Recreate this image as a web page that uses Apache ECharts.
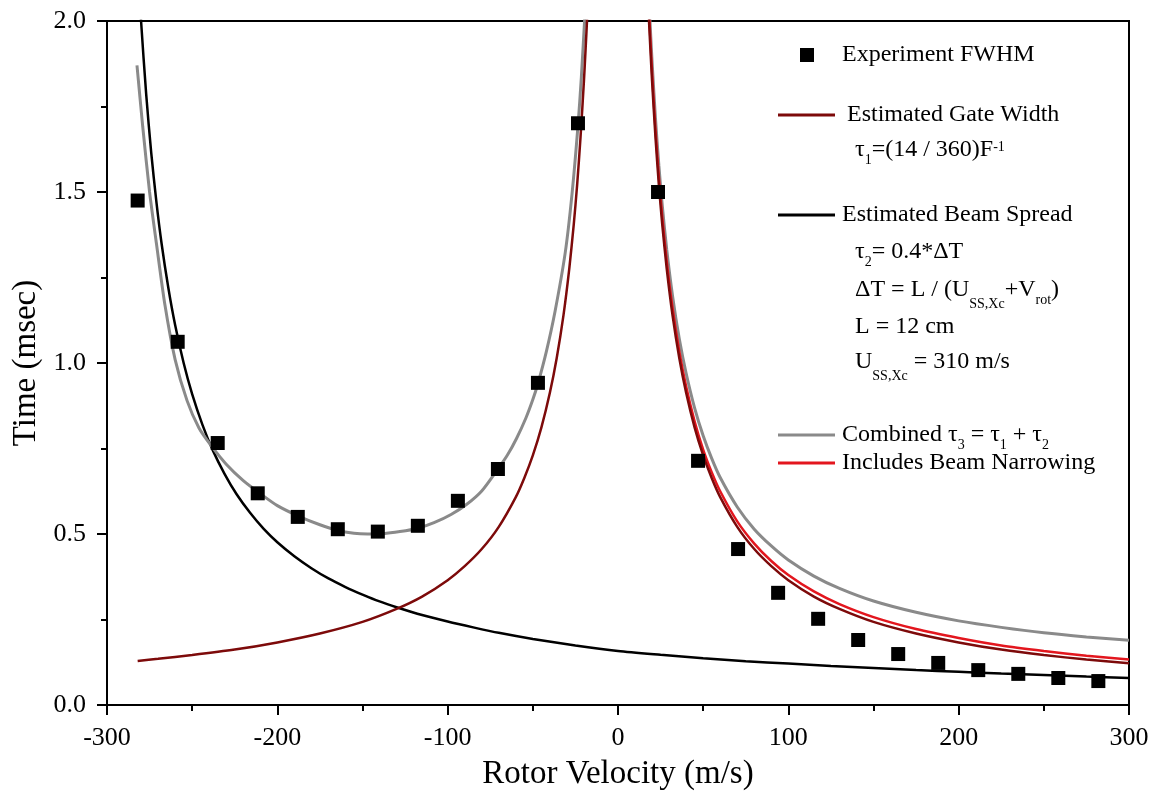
<!DOCTYPE html>
<html>
<head>
<meta charset="utf-8">
<title>Rotor Velocity vs Time</title>
<script src="https://cdn.jsdelivr.net/npm/echarts@6/dist/echarts.min.js"></script>
<style>
  html, body { margin: 0; padding: 0; background: #ffffff; }
  #chart { width: 1161px; height: 797px; }
</style>
</head>
<body>
<div id="chart"></div>
<script>
// Measured FWHM of the pulses
const fwhmVelocity = [-282, -258.5, -235, -211.5, -188, -164.5, -141, -117.5, -94, -70.5, -47, -23.5,
  23.5, 47, 70.5, 94, 117.5, 141, 164.5, 188, 211.5, 235, 258.5, 282];
const fwhmTime = [1.475, 1.062, 0.766, 0.619, 0.550, 0.514, 0.507, 0.524, 0.597, 0.690, 0.942, 1.701,
  1.500, 0.714, 0.456, 0.328, 0.252, 0.190, 0.149, 0.123, 0.102, 0.091, 0.079, 0.070];

// Estimated gate width (tau1); null splits the two branches at v = 0
const gateVelocity = [-282, -270, -250, -225, -200, -175, -150, -130, -115, -100, -90, -80, -70, -60, -55,
  -50, -45, -40, -36, -32, -28.6, -26, -24, -22, -20, -19, -18.2, -17.5, 0,
  17.5, 18.2, 19, 20, 22, 24, 26, 28.6, 32, 36, 40, 45, 50, 55, 60, 70, 80, 90, 100, 115, 130, 150,
  175, 200, 225, 250, 275, 300];
const gateTime = [0.129, 0.135, 0.146, 0.162, 0.183, 0.209, 0.243, 0.281, 0.317, 0.365, 0.406, 0.456, 0.521,
  0.608, 0.664, 0.730, 0.811, 0.913, 1.014, 1.140, 1.276, 1.404, 1.520, 1.660, 1.825, 1.920, 2.000, 2.080, null,
  2.080, 2.000, 1.920, 1.825, 1.660, 1.520, 1.404, 1.276, 1.140, 1.014, 0.913, 0.811, 0.730, 0.664, 0.608,
  0.521, 0.456, 0.406, 0.365, 0.317, 0.281, 0.243, 0.209, 0.183, 0.162, 0.146, 0.133, 0.122];

// Estimated beam spread (tau2)
const beamVelocity = [-282, -280, -277, -274, -271, -268, -264, -260, -255, -250, -244, -238, -231, -224,
  -216, -208, -200, -190, -180, -170, -160, -150, -140, -130, -115, -100, -85, -70, -50, -25, 0,
  25, 50, 75, 100, 125, 150, 175, 200, 225, 250, 275, 300];
const beamTime = [2.174, 2.000, 1.786, 1.613, 1.471, 1.351, 1.220, 1.111, 1.000, 0.909, 0.820, 0.746, 0.676,
  0.617, 0.562, 0.515, 0.476, 0.435, 0.400, 0.370, 0.345, 0.323, 0.303, 0.286, 0.263, 0.244, 0.227, 0.211,
  0.193, 0.174, 0.158, 0.147, 0.137, 0.128, 0.121, 0.114, 0.108, 0.102, 0.097, 0.092, 0.088, 0.083, 0.079];

// Combined tau3 = tau1 + tau2
const combinedVelocity = [-282.4, -279, -275, -271, -266, -260, -253, -246, -238.5, -230, -220, -210, -200,
  -187, -175, -165, -155, -147, -138, -128, -118, -108, -98, -88.8, -80, -71.2, -65, -59.5, -54, -50, -47,
  -42, -37, -31, -27, -23.5, -21.5, -19.4, -18.5, 0,
  18.3, 19, 20, 22, 24, 26, 28.6, 32, 36, 40, 45, 50, 55, 60, 70, 80, 90, 100, 115, 130, 150, 175, 200,
  225, 250, 275, 300];
const combinedTime = [1.870, 1.690, 1.500, 1.350, 1.170, 1.010, 0.890, 0.810, 0.756, 0.704, 0.656, 0.618,
  0.583, 0.551, 0.527, 0.511, 0.502, 0.500, 0.501, 0.507, 0.516, 0.533, 0.557, 0.587, 0.626, 0.685, 0.730,
  0.780, 0.840, 0.893, 0.940, 1.035, 1.150, 1.322, 1.494, 1.693, 1.837, 2.020, 2.110, null,
  2.051, 1.977, 1.881, 1.715, 1.577, 1.460, 1.332, 1.197, 1.070, 0.970, 0.868, 0.787, 0.721, 0.665, 0.579,
  0.514, 0.465, 0.424, 0.377, 0.341, 0.304, 0.271, 0.246, 0.227, 0.211, 0.199, 0.189];

// Combined width including beam narrowing
const narrowVelocity = [18, 18.6, 20, 22, 24, 26, 28.6, 32, 36, 40, 45, 50, 55, 60, 70, 80, 90, 100, 115,
  130, 150, 175, 200, 225, 250, 275, 300];
const narrowTime = [2.054, 1.988, 1.850, 1.683, 1.544, 1.426, 1.297, 1.161, 1.033, 0.931, 0.829, 0.747,
  0.681, 0.625, 0.537, 0.472, 0.421, 0.380, 0.332, 0.295, 0.257, 0.222, 0.196, 0.174, 0.158, 0.144, 0.133];

const xTicks = { min: -300, max: 300, step: 100 };
const yTicks = { min: 0, max: 2, step: 0.5 };

const SERIF = '"Liberation Serif", "Times New Roman", serif';
const DARK_RED = '#7d0a0a';
const RED = '#e3161e';
const GREY = '#8a8a8a';

function pairs(xs, ys) {
  return xs.map((x, i) => [x, ys[i] === null ? '-' : ys[i]]);
}

const lineBase = {
  type: 'line',
  showSymbol: false,
  symbol: 'none',
  smooth: 0.25,
  connectNulls: false,
  clip: true,
  z: 2
};

const chart = echarts.init(document.getElementById('chart'), null, { renderer: 'canvas' });

// Legend block: marks, labels and formulas
const LX1 = 778, LX2 = 835, TX = 842, FX = 855;
const mainFont = { fontFamily: SERIF, fontSize: 24 };
const richParts = {
  s: { fontFamily: SERIF, fontSize: 14, verticalAlign: 'top', padding: [17, 0, 0, 0], lineHeight: 28 },
  d: { fontFamily: SERIF, fontSize: 14, verticalAlign: 'top', padding: [21, 0, 0, 0], lineHeight: 28 },
  p: { fontFamily: SERIF, fontSize: 14, verticalAlign: 'top', padding: [4, 0, 0, 0], lineHeight: 28 }
};
function label(x, y, text) {
  return {
    type: 'text', x: x, y: y, silent: true,
    style: Object.assign({ text: text, fill: '#000', verticalAlign: 'middle', align: 'left',
      lineHeight: 28, rich: richParts }, mainFont)
  };
}
function swatch(y, color) {
  return { type: 'line', silent: true, shape: { x1: LX1, y1: y, x2: LX2, y2: y },
    style: { stroke: color, lineWidth: 3 } };
}

const legendGraphics = [
  { type: 'rect', silent: true, shape: { x: 800, y: 48, width: 14, height: 14 }, style: { fill: '#000' } },
  label(TX, 55, 'Experiment FWHM'),
  swatch(115, DARK_RED),
  label(TX + 5, 115, 'Estimated Gate Width'),
  label(FX, 150, 'τ{s|1}=(14 / 360)F{p|-1}'),
  swatch(215, '#000'),
  label(TX, 215, 'Estimated Beam Spread'),
  label(FX, 252, 'τ{s|2}= 0.4*ΔT'),
  label(FX, 290, 'ΔT = L / (U{d|SS,Xc}+V{s|rot})'),
  label(FX, 327, 'L = 12 cm'),
  label(FX, 362, 'U{d|SS,Xc} = 310 m/s'),
  swatch(435, GREY),
  label(TX, 435, 'Combined τ{s|3} = τ{s|1} + τ{s|2}'),
  swatch(463, RED),
  label(TX, 463, 'Includes Beam Narrowing')
];

const axisLineStyle = { color: '#000', width: 2 };

const option = {
  animation: false,
  backgroundColor: '#ffffff',
  grid: {
    left: 107, right: 32, top: 21, bottom: 92,
    show: true, borderColor: '#000', borderWidth: 2, backgroundColor: 'transparent'
  },
  xAxis: {
    type: 'value',
    min: xTicks.min, max: xTicks.max, interval: xTicks.step,
    name: 'Rotor Velocity (m/s)',
    nameLocation: 'middle',
    nameGap: 53,
    nameTextStyle: { fontFamily: SERIF, fontSize: 33, color: '#000' },
    axisLine: { show: true, onZero: false, lineStyle: axisLineStyle },
    axisTick: { show: true, inside: false, length: 10, lineStyle: axisLineStyle },
    minorTick: { show: true, splitNumber: 2, length: 6, lineStyle: axisLineStyle },
    splitLine: { show: false },
    minorSplitLine: { show: false },
    axisLabel: { fontFamily: SERIF, fontSize: 26, color: '#000', margin: 20 }
  },
  yAxis: {
    type: 'value',
    min: yTicks.min, max: yTicks.max, interval: yTicks.step,
    name: 'Time (msec)',
    nameLocation: 'middle',
    nameGap: 61,
    nameTextStyle: { fontFamily: SERIF, fontSize: 33, color: '#000' },
    axisLine: { show: true, onZero: false, lineStyle: axisLineStyle },
    axisTick: { show: true, inside: false, length: 10, lineStyle: axisLineStyle },
    minorTick: { show: true, splitNumber: 2, length: 6, lineStyle: axisLineStyle },
    splitLine: { show: false },
    minorSplitLine: { show: false },
    axisLabel: { fontFamily: SERIF, fontSize: 26, color: '#000', margin: 21,
      formatter: v => v.toFixed(1) }
  },
  graphic: legendGraphics,
  series: [
    Object.assign({}, lineBase, {
      name: 'Estimated Beam Spread',
      data: pairs(beamVelocity, beamTime),
      lineStyle: { color: '#000', width: 2.5 }, itemStyle: { color: '#000' }
    }),
    Object.assign({}, lineBase, {
      name: 'Combined',
      data: pairs(combinedVelocity, combinedTime),
      lineStyle: { color: GREY, width: 3 }, itemStyle: { color: GREY }
    }),
    Object.assign({}, lineBase, {
      name: 'Includes Beam Narrowing',
      data: pairs(narrowVelocity, narrowTime),
      lineStyle: { color: RED, width: 2.5 }, itemStyle: { color: RED }
    }),
    Object.assign({}, lineBase, {
      name: 'Estimated Gate Width',
      data: pairs(gateVelocity, gateTime),
      lineStyle: { color: DARK_RED, width: 2.5 }, itemStyle: { color: DARK_RED }
    }),
    {
      name: 'Experiment FWHM',
      type: 'scatter',
      symbol: 'rect',
      symbolSize: 14,
      itemStyle: { color: '#000', opacity: 1 },
      data: pairs(fwhmVelocity, fwhmTime),
      z: 5
    }
  ]
};

chart.setOption(option);
</script>
</body>
</html>
